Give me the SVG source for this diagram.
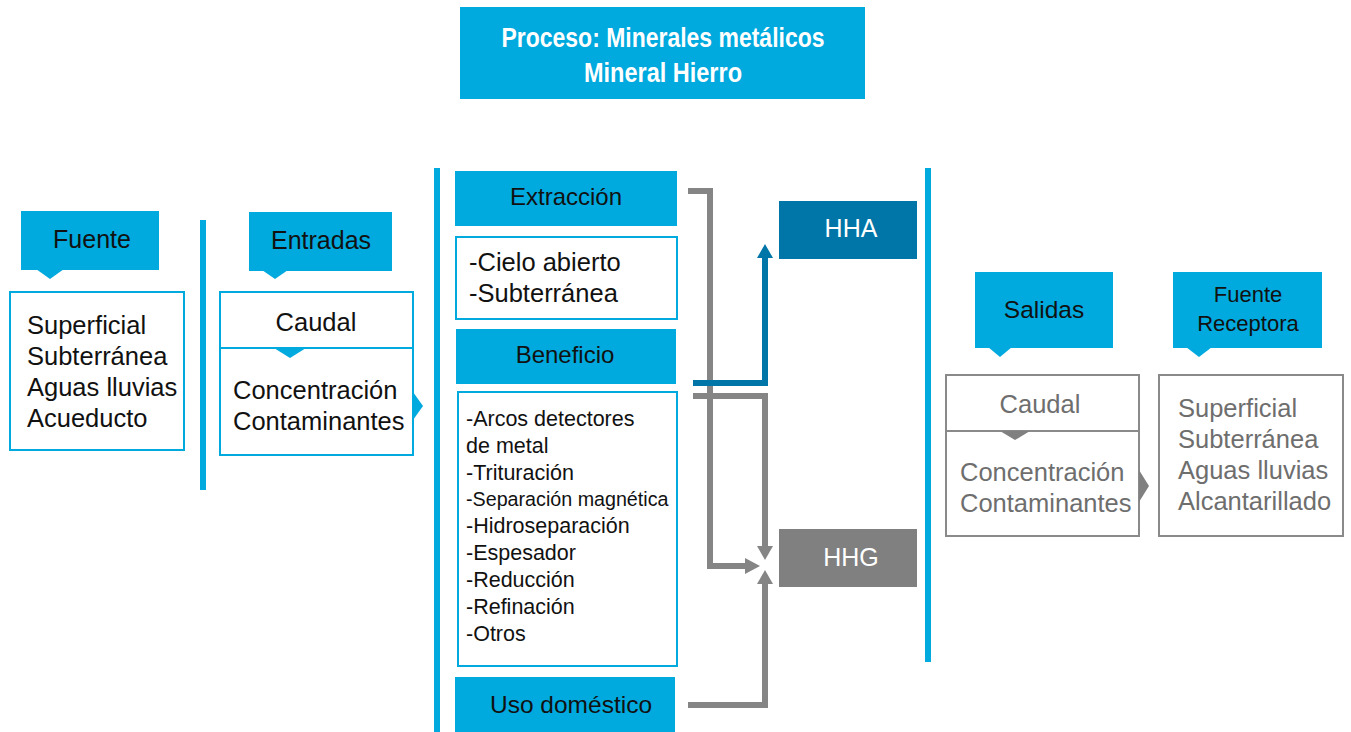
<svg xmlns="http://www.w3.org/2000/svg" width="1351" height="732" viewBox="0 0 1351 732">
<style>
.hdr{fill:#00a9de}
.bx{fill:#fff;stroke:#00a9de;stroke-width:2}
.gbx{fill:#fff;stroke:#8a8a8a;stroke-width:2}
.bar{fill:#00a9de}
.t{font-family:"Liberation Sans",Arial,sans-serif;font-size:25.5px;fill:#111}
.tc{text-anchor:middle}
.ts{font-size:21.5px}
.g{fill:#6e6e6e}
.w{fill:#fff}
.gl{fill:none;stroke:#858585;stroke-width:6}
.bl{fill:none;stroke:#0076a8;stroke-width:6}
</style>
<rect width="1351" height="732" fill="#fff"/>
<g id="title">
<rect x="460" y="7" width="405" height="92" class="hdr"/>
<text x="663" y="47" class="t tc w" style="font-weight:bold;font-size:27px" textLength="323" lengthAdjust="spacingAndGlyphs">Proceso: Minerales metálicos</text>
<text x="663" y="82" class="t tc w" style="font-weight:bold;font-size:27px" textLength="158" lengthAdjust="spacingAndGlyphs">Mineral Hierro</text>
</g>
<g id="bars">
<rect x="200" y="220" width="6" height="270" class="bar"/>
<rect x="434" y="168" width="6" height="564" class="bar"/>
<rect x="925" y="168" width="6" height="494" class="bar"/>
</g>
<g id="fuente">
<rect x="21" y="211" width="138" height="59" class="hdr"/>
<polygon points="36,269 64,269 50,279" class="hdr"/>
<text x="92" y="248" class="t tc" style="font-size:25px">Fuente</text>
<rect x="10" y="292" width="174" height="158" class="bx"/>
<text x="27" y="334" class="t">Superficial</text>
<text x="27" y="365" class="t">Subterránea</text>
<text x="27" y="396" class="t">Aguas lluvias</text>
<text x="27" y="427" class="t">Acueducto</text>
</g>
<g id="entradas">
<rect x="249" y="212" width="143" height="59" class="hdr"/>
<polygon points="262,270 288,270 275,279" class="hdr"/>
<text x="321" y="249" class="t tc" style="font-size:25px">Entradas</text>
<rect x="220" y="292" width="193" height="163" class="bx"/>
<line x1="220" y1="348" x2="413" y2="348" stroke="#00a9de" stroke-width="2"/>
<polygon points="274,348 306,348 290,358" class="hdr"/>
<polygon points="413,392 423,406 413,420" class="hdr"/>
<text x="316" y="331" class="t tc">Caudal</text>
<text x="233" y="399" class="t">Concentración</text>
<text x="233" y="430" class="t">Contaminantes</text>
</g>
<g id="extraccion">
<rect x="455" y="171" width="222" height="55" class="hdr"/>
<text x="566" y="205" class="t tc" style="font-size:24px">Extracción</text>
</g>
<g id="cielo">
<rect x="456" y="237" width="221" height="82" class="bx"/>
<text x="469" y="271" class="t">-Cielo abierto</text>
<text x="469" y="302" class="t">-Subterránea</text>
</g>
<g id="beneficio">
<rect x="456" y="329" width="220" height="55" class="hdr"/>
<text x="565" y="363" class="t tc" style="font-size:24px">Beneficio</text>
</g>
<g id="procesos">
<rect x="458" y="392" width="219" height="274" class="bx"/>
<text x="466" y="426" class="t ts">-Arcos detectores</text>
<text x="466" y="453" class="t ts">de metal</text>
<text x="466" y="480" class="t ts">-Trituración</text>
<text x="466" y="506" class="t ts" style="font-size:19.7px">-Separación magnética</text>
<text x="466" y="533" class="t ts">-Hidroseparación</text>
<text x="466" y="560" class="t ts">-Espesador</text>
<text x="466" y="587" class="t ts">-Reducción</text>
<text x="466" y="614" class="t ts">-Refinación</text>
<text x="466" y="641" class="t ts">-Otros</text>
</g>
<g id="uso">
<rect x="455" y="677" width="220" height="55" class="hdr"/>
<text x="571" y="713" class="t tc" style="font-size:24.5px">Uso doméstico</text>
</g>
<g id="hha">
<rect x="779" y="201" width="138" height="58" fill="#0075a8"/>
<text x="851" y="237" class="t tc w" style="font-size:25px">HHA</text>
</g>
<g id="hhg">
<rect x="779" y="529" width="138" height="58" fill="#808080"/>
<text x="851" y="566" class="t tc w" style="font-size:25px">HHG</text>
</g>
<g id="connectors">
<polyline points="688,191 710,191 710,566 748,566" class="gl"/>
<polygon points="745,558 760,566 745,574" fill="#858585"/>
<polyline points="693,383 765,383 765,256" class="bl"/>
<polygon points="757,258 765,244 773,258" fill="#0076a8"/>
<polyline points="693,396 765,396 765,548" class="gl"/>
<polygon points="757,546 765,560 773,546" fill="#858585"/>
<polyline points="688,705 765,705 765,582" class="gl"/>
<polygon points="757,584 765,570 773,584" fill="#858585"/>
</g>
<g id="salidas">
<rect x="975" y="272" width="138" height="76" class="hdr"/>
<polygon points="988,347 1012,347 1000,357" class="hdr"/>
<text x="1044" y="318" class="t tc" style="font-size:24.5px">Salidas</text>
<rect x="946" y="375" width="193" height="161" class="gbx"/>
<line x1="946" y1="431" x2="1139" y2="431" stroke="#8a8a8a" stroke-width="2"/>
<polygon points="1000,431 1030,431 1015,440" fill="#808080"/>
<polygon points="1139,470 1149,486 1139,502" fill="#808080"/>
<text x="1040" y="413" class="t tc g">Caudal</text>
<text x="960" y="481" class="t g">Concentración</text>
<text x="960" y="512" class="t g">Contaminantes</text>
</g>
<g id="receptora">
<rect x="1173" y="272" width="149" height="76" class="hdr"/>
<polygon points="1186,347 1212,347 1199,357" class="hdr"/>
<text x="1248" y="302" class="t tc" style="font-size:22px">Fuente</text>
<text x="1248" y="331" class="t tc" style="font-size:22px">Receptora</text>
<rect x="1159" y="375" width="184" height="161" class="gbx"/>
<text x="1178" y="417" class="t g">Superficial</text>
<text x="1178" y="448" class="t g">Subterránea</text>
<text x="1178" y="479" class="t g">Aguas lluvias</text>
<text x="1178" y="510" class="t g">Alcantarillado</text>
</g>
</svg>
